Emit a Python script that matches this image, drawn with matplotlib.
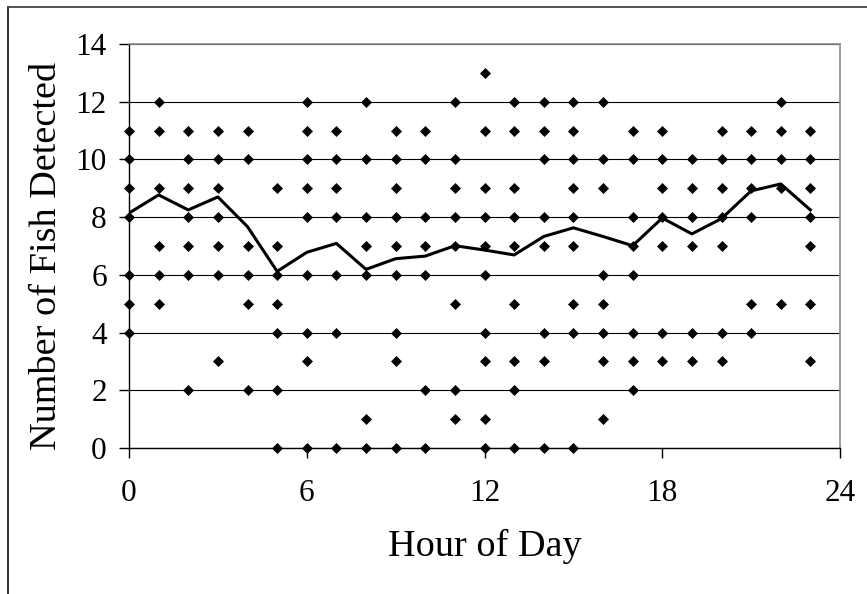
import matplotlib
matplotlib.use("Agg")
import matplotlib.pyplot as plt
from matplotlib.lines import Line2D

# fish detected in each sample, grouped by hour of day (0..23)
hours = list(range(24))
fish_counts = [
    [11, 10, 9, 8, 6, 5, 4],
    [12, 11, 9, 7, 6, 5],
    [11, 10, 9, 8, 7, 6, 2],
    [11, 10, 9, 8, 7, 6, 3],
    [11, 10, 7, 6, 5, 2],
    [9, 7, 6, 5, 4, 2, 0],
    [12, 11, 10, 9, 8, 6, 4, 3, 0],
    [11, 10, 9, 8, 6, 4, 0],
    [12, 10, 8, 7, 6, 1, 0],
    [11, 10, 9, 8, 7, 6, 4, 3, 0],
    [11, 10, 8, 7, 6, 2, 0],
    [12, 10, 9, 8, 7, 5, 2, 1],
    [13, 11, 9, 8, 7, 6, 4, 3, 1, 0],
    [12, 11, 9, 8, 7, 5, 3, 2, 0],
    [12, 11, 10, 8, 7, 4, 3, 0],
    [12, 11, 10, 9, 8, 7, 5, 4, 0],
    [12, 10, 9, 6, 5, 4, 3, 1],
    [11, 10, 8, 7, 6, 4, 3, 2],
    [11, 10, 9, 8, 7, 4, 3],
    [10, 9, 8, 7, 4, 3],
    [11, 10, 9, 8, 7, 4, 3],
    [11, 10, 9, 8, 5, 4],
    [12, 11, 10, 9, 5],
    [11, 10, 9, 8, 7, 5, 3],
]
# hourly mean line
mean_counts = [8.14, 8.77, 8.25, 8.70, 7.67, 6.12, 6.78, 7.09, 6.19, 6.56, 6.65, 7.01,
               6.86, 6.69, 7.33, 7.63, 7.33, 7.01, 7.97, 7.42, 7.95, 8.91, 9.15, 8.25]

x_ticks = [0, 6, 12, 18, 24]
y_ticks = [0, 2, 4, 6, 8, 10, 12, 14]

plt.rcParams['font.family'] = ['Liberation Serif', 'DejaVu Serif']

fig = plt.figure(figsize=(8.67, 5.94), dpi=100)
ax = fig.add_axes([129 / 867, 146 / 594, 711 / 867, 404 / 594])

# scatter of individual counts
px = [h for h, vals in zip(hours, fish_counts) for _ in vals]
py = [v for vals in fish_counts for v in vals]
ax.plot(px, py, linestyle='none', marker='D', markersize=5.6,
        color='black', markeredgewidth=0.5, zorder=3, clip_on=False)

# mean line
ax.plot(hours, mean_counts, color='black', linewidth=2.2, zorder=4)

ax.set_xlim(0, 24)
ax.set_ylim(0, 14)
ax.set_xticks(x_ticks)
ax.set_yticks(y_ticks)
ax.yaxis.grid(True, color='black', linewidth=0.8)
ax.set_axisbelow(True)

for side in ['top', 'right']:
    ax.spines[side].set_color('#8c8c8c')
    ax.spines[side].set_linewidth(1.2)
for side in ['left', 'bottom']:
    ax.spines[side].set_color('black')
    ax.spines[side].set_linewidth(1.0)

ax.tick_params(axis='both', direction='out', length=7, width=1,
               labelsize=22.5, color='black')
ax.tick_params(axis='x', pad=15)
ax.tick_params(axis='y', pad=9)

ax.set_xlabel('Hour of Day', fontsize=27.5)
ax.set_ylabel('Number of Fish Detected', fontsize=27.5)
ax.xaxis.set_label_coords(0.5, -0.2)
ax.yaxis.set_label_coords(-0.092, 0.475)

# outer frame (left and top edges visible)
fig.add_artist(Line2D([8 / 867, 8 / 867], [0, 1 - 7 / 594],
                      transform=fig.transFigure, color='#222222', linewidth=1.3))
fig.add_artist(Line2D([8 / 867, 1], [1 - 7 / 594, 1 - 7 / 594],
                      transform=fig.transFigure, color='#444444', linewidth=1.3))

fig.savefig('out.png', dpi=100)
